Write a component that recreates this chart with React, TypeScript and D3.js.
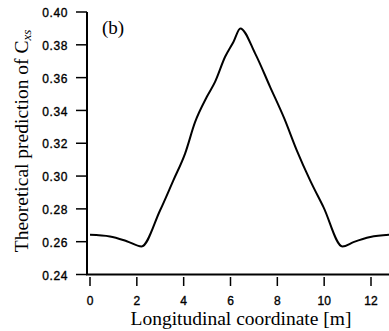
import React from "react";
import * as d3 from "d3";

const xs = [0, 0.85, 1.57, 2.2, 2.99, 3.56, 4.06, 4.49, 4.99, 5.34, 5.77, 6.13, 6.42, 7.05, 7.69, 8.3, 8.83, 9.4, 9.97, 10.78, 11.25, 11.97, 12.8];
const ys = [0.2642, 0.2632, 0.2603, 0.2571, 0.279, 0.2974, 0.3137, 0.333, 0.3483, 0.3574, 0.3727, 0.3819, 0.39, 0.3748, 0.3544, 0.335, 0.3157, 0.2974, 0.2811, 0.2571, 0.2597, 0.2628, 0.2642];
const xTicks = [0, 2, 4, 6, 8, 10, 12];
const yTicks = [0.24, 0.26, 0.28, 0.3, 0.32, 0.34, 0.36, 0.38, 0.4];

export default function App() {
  const W = 389, H = 331;
  const x = d3.scaleLinear().domain([0, 12]).range([90, 371]);
  const y = d3.scaleLinear().domain([0.24, 0.4]).range([274.5, 12]);
  const pts = xs.map((v, i) => [v, ys[i]] as [number, number]);
  const line = d3.line<[number, number]>().x(d => x(d[0])).y(d => y(d[1])).curve(d3.curveMonotoneX);
  const sans = "Liberation Sans, Arial, sans-serif";
  const serif = "Liberation Serif, Times New Roman, serif";
  return (
    <svg width={W} height={H} style={{ position: "absolute", left: 0, top: 0, background: "#fff" }}>
      <line x1={87} x2={87} y1={12} y2={275} stroke="#000" strokeWidth={2} />
      <line x1={86} x2={389} y1={274.5} y2={274.5} stroke="#000" strokeWidth={2} />
      {yTicks.map(t => (
        <g key={t}>
          <line x1={76} x2={87} y1={y(t)} y2={y(t)} stroke="#000" strokeWidth={1.5} />
          <text x={68} y={y(t) + 1} dy="0.35em" textAnchor="end" fontFamily={sans} fontSize={12} letterSpacing={0.6} fill="#000" stroke="#000" strokeWidth={0.35}>{t.toFixed(2)}</text>
        </g>
      ))}
      {xTicks.map(t => (
        <g key={t}>
          <line x1={x(t)} x2={x(t)} y1={277} y2={286} stroke="#000" strokeWidth={1.5} />
          <text x={x(t)} y={305} textAnchor="middle" fontFamily={sans} fontSize={12} fill="#000" stroke="#000" strokeWidth={0.35}>{t}</text>
        </g>
      ))}
      <path d={line(pts) || ""} fill="none" stroke="#000" strokeWidth={2} />
      <text x={102} y={34} fontFamily={serif} fontSize={19} fill="#000">(b)</text>
      <text x={241} y={325} textAnchor="middle" fontFamily={serif} fontSize={19.5} fill="#000">Longitudinal coordinate [m]</text>
      <text transform="translate(28,141) rotate(-90)" textAnchor="middle" fontFamily={serif} fontSize={19.5} fill="#000">
        Theoretical prediction of <tspan>C</tspan><tspan fontSize={13} fontStyle="italic" dy={3}>xs</tspan>
      </text>
    </svg>
  );
}
